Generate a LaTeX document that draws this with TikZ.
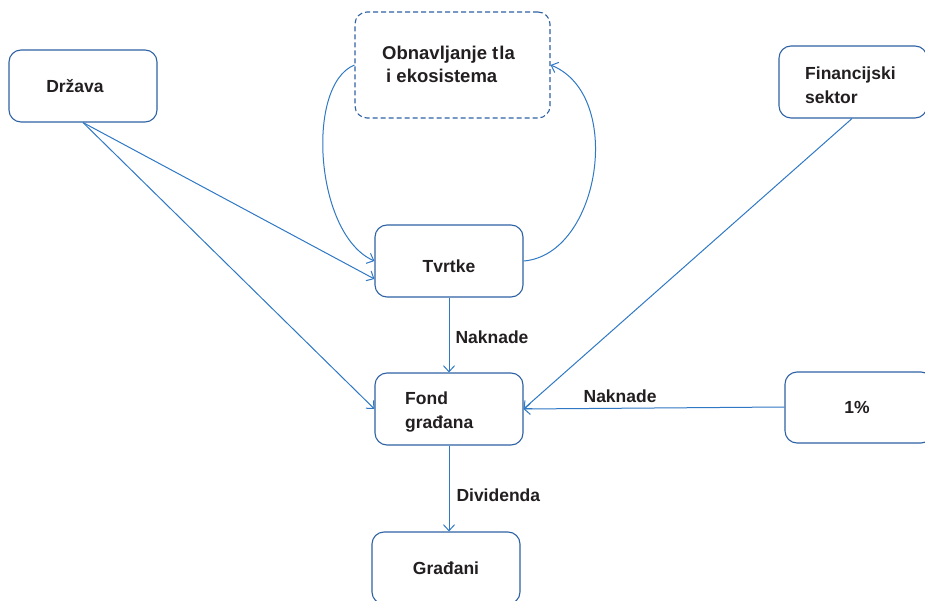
\documentclass[tikz,border=0pt]{standalone}
\usepackage{fontspec}
\setmainfont{Liberation Sans}
\usetikzlibrary{arrows.meta,calc}
\definecolor{boxc}{RGB}{47,98,164}
\definecolor{linec}{RGB}{46,120,196}
\definecolor{ink}{RGB}{35,31,32}
\begin{document}
\begin{tikzpicture}[x=1pt,y=-1pt,
  box/.style={draw=boxc,line width=1.1pt,rounded corners=12pt,fill=white,
    minimum width=148pt,minimum height=72pt,inner sep=0pt},
  dashbox/.style={box,dash pattern=on 5pt off 3pt},
  txt/.style={text=ink,font=\fontsize{17.5}{24}\selectfont\bfseries,align=left,inner sep=0pt},
  conn/.style={draw=linec,line width=1pt,-{Straight Barb[length=6pt,width=11pt,line width=1pt]}}]
\useasboundingbox (0,0) rectangle (925,601);

% boxes
\node[box] (drzava) at (83,86) {};
\node[dashbox,minimum width=195pt,minimum height=106pt] (obnova) at (452.5,65) {};
\node[box] (fin) at (853,82) {};
\node[box] (tvrtke) at (449,261) {};
\node[box] (fond) at (449,409) {};
\node[box,minimum height=71pt] (pct) at (859,407.5) {};
\node[box] (gradjani) at (446,568) {};

% box texts
\node[txt] (tdrzava) at (75,86) {Država};
\node[txt,anchor=west,font=\fontsize{18.5}{23}\selectfont\bfseries] (tobnova) at (382,64)
  {Obnavljanje t\kern1pt la\\\hspace*{4pt}i ekosistema};
\node[txt,anchor=west] (tfin) at (805,85) {Financijski\\sektor};
\node[txt] (ttvrtke) at (449,266) {Tvrtke};
\node[txt,anchor=west] (tfond) at (405,412) {Fond\\građana};
\node[txt] (tpct) at (857,407) {1\%};
\node[txt] (tgradjani) at (446,568) {Građani};

% connectors
\draw[conn] (drzava.south) -- ([yshift=-18pt]tvrtke.west);
\draw[conn] (drzava.south) -- (fond.west);
\draw[conn] (obnova.west) .. controls (305,85) and (315,235) .. (tvrtke.west);
\draw[conn] (tvrtke.east) .. controls (600,255) and (625,95) .. (obnova.east);
\draw[conn] (tvrtke.south) -- (fond.north)
  node[pos=0.53,right=6pt,txt] (lnak1) {Naknade};
\draw[conn] ([xshift=-1pt]fin.south) -- (fond.east);
\draw[conn] ([yshift=0.5pt]pct.west) -- (fond.east)
  node[pos=0.63,above=5pt,txt] (lnak2) {Naknade};
\draw[conn] (fond.south) -- (fond.south |- gradjani.north)
  node[pos=0.58,right=7pt,txt] (ldiv) {Dividenda};
\end{tikzpicture}
\end{document}
